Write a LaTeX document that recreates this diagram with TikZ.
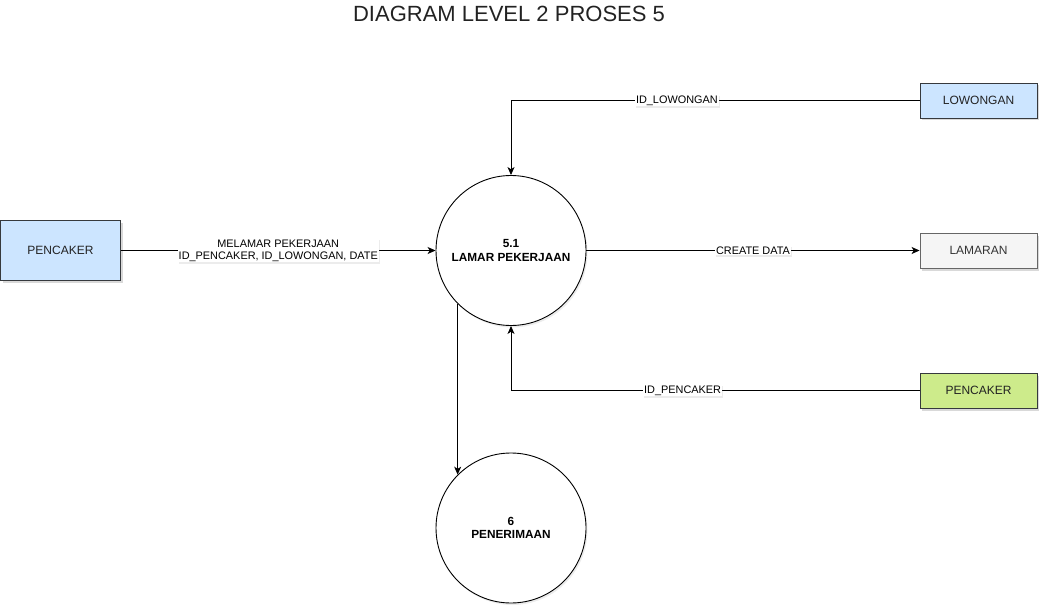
\documentclass[tikz,border=0pt]{standalone}
\usepackage{fontspec}
\setmainfont{Liberation Sans}
\usetikzlibrary{arrows.meta,shadows}
\definecolor{bluefill}{HTML}{CCE5FF}
\definecolor{boxstroke}{HTML}{36393D}
\definecolor{greyfill}{HTML}{F5F5F5}
\definecolor{greystroke}{HTML}{666666}
\definecolor{greytext}{HTML}{333333}
\definecolor{greenfill}{HTML}{CDEB8B}
\definecolor{titlecol}{HTML}{222222}
\tikzset{
  sh/.style={drop shadow={shadow xshift=2pt,shadow yshift=-2.5pt,opacity=0.3,fill=gray}},
  entity/.style={draw=boxstroke,line width=0.9pt,sh,font=\fontsize{12}{14}\selectfont,text=titlecol},
  proc/.style={circle,draw=black,line width=0.9pt,fill=white,minimum size=150pt,inner sep=0pt,align=center,font=\bfseries\fontsize{11.8}{13.5}\selectfont,
    drop shadow={shadow xshift=1.5pt,shadow yshift=-2pt,opacity=0.15,fill=gray}},
  flow/.style={draw=black,line width=0.9pt,-{Stealth[length=8pt,width=7pt,inset=2.2pt]}},
  lbl/.style={fill=white,inner sep=1pt,align=center,font=\fontsize{10.9}{12}\selectfont,
    drop shadow={shadow xshift=1pt,shadow yshift=-1.5pt,opacity=0.15,fill=gray}}
}
\begin{document}
\begin{tikzpicture}[x=1pt,y=-1pt]
\useasboundingbox (0,0) rectangle (1049,615);
\node[font=\fontsize{22}{24}\selectfont,text=titlecol] (title) at (509,13.5) {DIAGRAM LEVEL 2 PROSES 5};

\node[entity,fill=bluefill,minimum width=120pt,minimum height=60pt] (p1) at (60.5,250.5) {PENCAKER};
\node[entity,fill=bluefill,minimum width=117pt,minimum height=35pt] (low) at (978.5,100.5) {LOWONGAN};
\node[entity,draw=greystroke,fill=greyfill,text=greytext,minimum width=117pt,minimum height=35pt] (lam) at (978.5,250.5) {LAMARAN};
\node[entity,fill=greenfill,minimum width=117pt,minimum height=35pt] (p2) at (978.5,390.5) {PENCAKER};

\node[proc] (c1) at (511,250.5) {5.1\\LAMAR PEKERJAAN};
\node[proc] (c2) at (511,528) {6\\PENERIMAAN};

\draw[flow] (p1.east) -- (c1.west)
  node[lbl,pos=0.5] (l1) {MELAMAR PEKERJAAN\\ID\_PENCAKER, ID\_LOWONGAN, DATE};
\draw[flow] (low.west) -| (c1.north)
  node[lbl,pos=0.297] (l2) {ID\_LOWONGAN};
\draw[flow] (c1.east) -- (lam.west)
  node[lbl,pos=0.5] (l3) {CREATE DATA};
\draw[flow] (p2.west) -| (c1.south)
  node[lbl,pos=0.29] (l4) {ID\_PENCAKER};
\draw[flow] (c1.-135) -- (c2.135);
\end{tikzpicture}
\end{document}
